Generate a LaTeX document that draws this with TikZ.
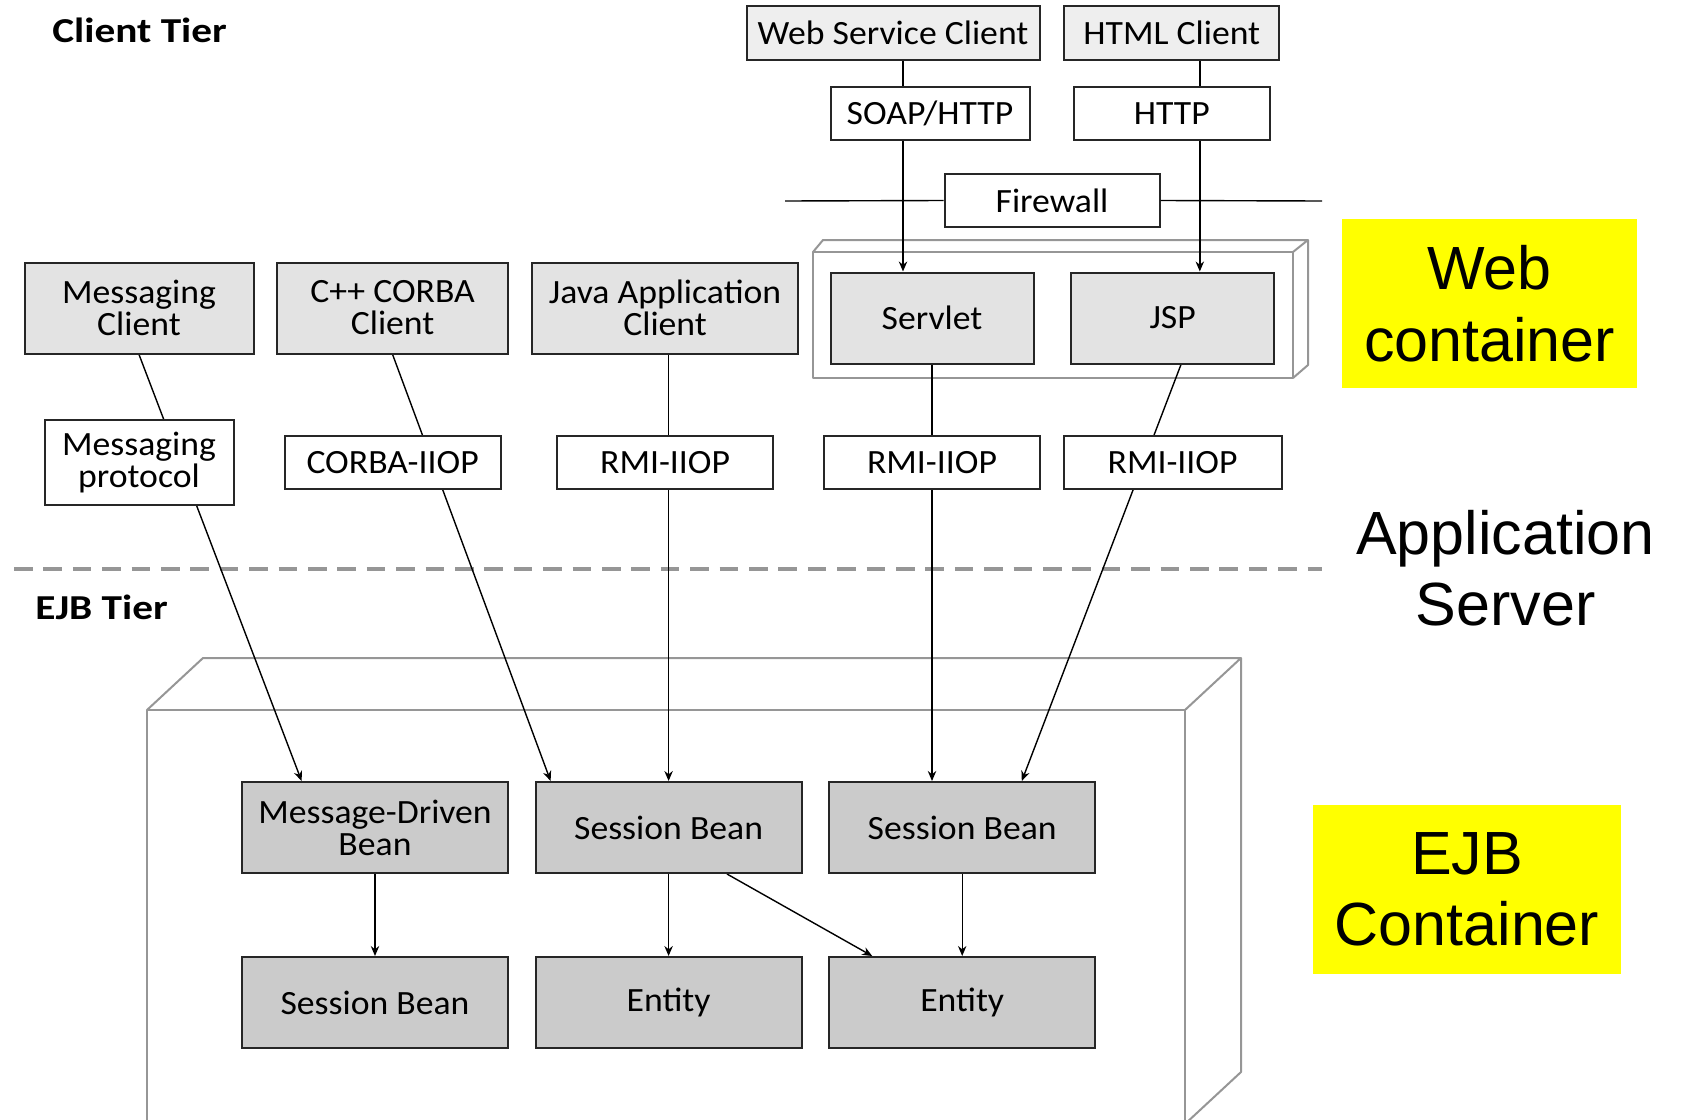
\documentclass[tikz,border=0pt]{standalone}
\usepackage{fontspec}
\newfontfamily\boxfont{Carlito}[FakeStretch=1.05]
\newfontfamily\tierfont{Carlito}[FakeStretch=1.18]
\newfontfamily\notefont{Liberation Sans}
\usetikzlibrary{positioning, arrows.meta, backgrounds}
\definecolor{toplightgray}{RGB}{238,238,238}
\definecolor{clientgray}{RGB}{227,227,227}
\definecolor{beangray}{RGB}{203,203,203}
\definecolor{wallgray}{RGB}{150,150,150}
\definecolor{noteyellow}{RGB}{255,255,0}
\tikzset{
	tier/.style = {anchor=west, inner sep=0pt, font=\tierfont\bfseries\fontsize{17.5}{20}\selectfont},
	client0/.style = {rectangle, draw=black!85, line width=1pt, fill=toplightgray, minimum height=27pt, inner sep=2pt, font=\boxfont\fontsize{17}{16}\selectfont},
	client1/.style = {rectangle, draw=black!85, line width=1pt, fill=clientgray, minimum height=45.5pt, inner sep=2pt, align=center, font=\boxfont\fontsize{17}{16}\selectfont},
	protocol/.style = {rectangle, draw=black!85, line width=1pt, fill=white, minimum height=26.5pt, inner sep=2pt, align=center, font=\boxfont\fontsize{17}{16}\selectfont},
	bean/.style = {rectangle, draw=black!85, line width=1pt, fill=beangray, minimum width=133pt, minimum height=45.5pt, inner sep=2pt, align=center, font=\boxfont\fontsize{17}{16}\selectfont},
	note/.style = {rectangle, fill=noteyellow, inner sep=0pt, align=center, font=\notefont\fontsize{30.5}{35.7}\selectfont},
	wall/.style = {draw=wallgray, line width=1pt, line join=round},
	tierline/.style = {draw=wallgray, line width=1.75pt, dash pattern=on 9.3pt off 5.4pt},
	arrow/.style = {-{Stealth[length=5pt, width=4.2pt]}, line width=0.7pt},
	link/.style = {line width=0.7pt}
}

\begin{document}
\begin{tikzpicture}[x=0.5pt, y=-0.5pt, node distance=41pt and 12.8pt]
		
		\useasboundingbox (0,0) rectangle (1681,1119);
		\clip (0,0) rectangle (1681,1119);
		
		% Tier titles
		\node (client_tier) [tier] at (52,30.5) {Client Tier};
		\node (ejb_tier) [tier] at (35,607) {EJB Tier};
		
		% Web clients and web container
		\node (ws_client) [client0, minimum width=146.5pt] at (893,33) {Web Service Client};
		\node (html_client) [client0, minimum width=107.5pt, right=11.4pt of ws_client] {HTML Client};
		\node (soap_http) [protocol, minimum width=99.5pt] at (930,113.4) {SOAP/HTTP};
		\node (http_proto) [protocol, minimum width=98pt] at (html_client |- soap_http) {HTTP};
		\node (firewall) [protocol, minimum width=107.5pt] at (1052,200.5) {Firewall};
		\coordinate (fw_left) at (785,201);
		\coordinate (fw_right) at (1322,201);
		\node (servlet) [client1, minimum width=101.5pt] at (932,318) {Servlet};
		\node (jsp) [client1, minimum width=101.5pt, right=17.8pt of servlet] {JSP};
		
		% Other clients
		\node (msg_client) [client1, minimum width=114.5pt] at (139,308) {Messaging\\Client};
		\node (corba_client) [client1, minimum width=115.5pt, right=10.8pt of msg_client] {C++ CORBA\\Client};
		\node (java_client) [client1, minimum width=133pt, right=11pt of corba_client] {Java Application\\Client};
		
		% Protocols
		\node (msg_proto) [protocol, minimum width=94.5pt, minimum height=42.5pt] at (139,462.7) {Messaging\\protocol};
		\node (corba_iiop) [protocol, minimum width=108pt] at (corba_client |- msg_proto) {CORBA-IIOP};
		\node (rmi_java) [protocol, minimum width=108pt] at (java_client |- msg_proto) {RMI-IIOP};
		\node (rmi_servlet) [protocol, minimum width=108pt] at (servlet |- msg_proto) {RMI-IIOP};
		\node (rmi_jsp) [protocol, minimum width=109pt] at (jsp |- msg_proto) {RMI-IIOP};
		
		% EJB container
		\node (md_bean) [bean] at (375,827.5) {Message-Driven\\Bean};
		\node (session_mid) [bean, right=of md_bean] {Session Bean};
		\node (session_right) [bean, right=of session_mid] {Session Bean};
		\node (session_left) [bean, below=of md_bean] {Session Bean};
		\node (entity_mid) [bean, below=of session_mid] {Entity};
		\node (entity_right) [bean, below=of session_right] {Entity};
		
		% Notes
		\node (web_note) [note, minimum width=147.5pt, minimum height=84.5pt] at (1489.5,303.7) {Web\\container};
		\node (server_note) [note, fill=none] at (1505.5,568) {Application\\Server};
		\node (ejb_note) [note, minimum width=154.3pt, minimum height=84.5pt] at (1467,889.5) {EJB\\Container};
		
		% Firewall
		\draw [link] (fw_left) -- (firewall.west);
		\draw [link] (firewall.east) -- (fw_right);
		
		\begin{pgfonlayer}{background}
			% Containers
			\draw [wall] (147,1124) -- (147,710) -- (1185,710) -- (1185,1124);
			\draw [wall] (147,710) -- (203,658) -- (1241,658) -- (1185,710);
			\draw [wall] (1241,658) -- (1241,1072) -- (1185,1124);
			\draw [wall] (813,252) rectangle (1293,378);
			\draw [wall] (813,252) -- (823,240) -- (1308,240) -- (1293,252);
			\draw [wall] (1308,240) -- (1308,365) -- (1293,378);
			\draw [tierline] (14,569) -- (1322,569);
			
			% Arrows
			\draw [arrow] ([xshift=5pt]ws_client.south) -- ([xshift=5pt]ws_client.south |- servlet.north);
			\draw [arrow] ([xshift=14pt]html_client.south) -- ([xshift=14pt]html_client.south |- jsp.north);
			\draw [arrow] (msg_client.south) -- ([xshift=-36.7pt]md_bean.north);
			\draw [arrow] (corba_client.south) -- ([xshift=8pt]session_mid.north west);
			\draw [arrow] (session_mid.north |- java_client.south) -- (session_mid.north);
			\draw [arrow] (servlet.south) -- (servlet.south |- session_right.north);
			\draw [arrow] ([xshift=4.2pt]jsp.south) -- ([xshift=29.8pt]session_right.north);
			\draw [arrow] (md_bean) -- (session_left);
			\draw [arrow] (session_mid) -- (entity_mid);
			\draw [arrow] ([xshift=29.2pt]session_mid.south) -- ([xshift=22pt]entity_right.north west);
			\draw [arrow] (session_right) -- (entity_right);
		\end{pgfonlayer}
		
	\end{tikzpicture}
\end{document}
